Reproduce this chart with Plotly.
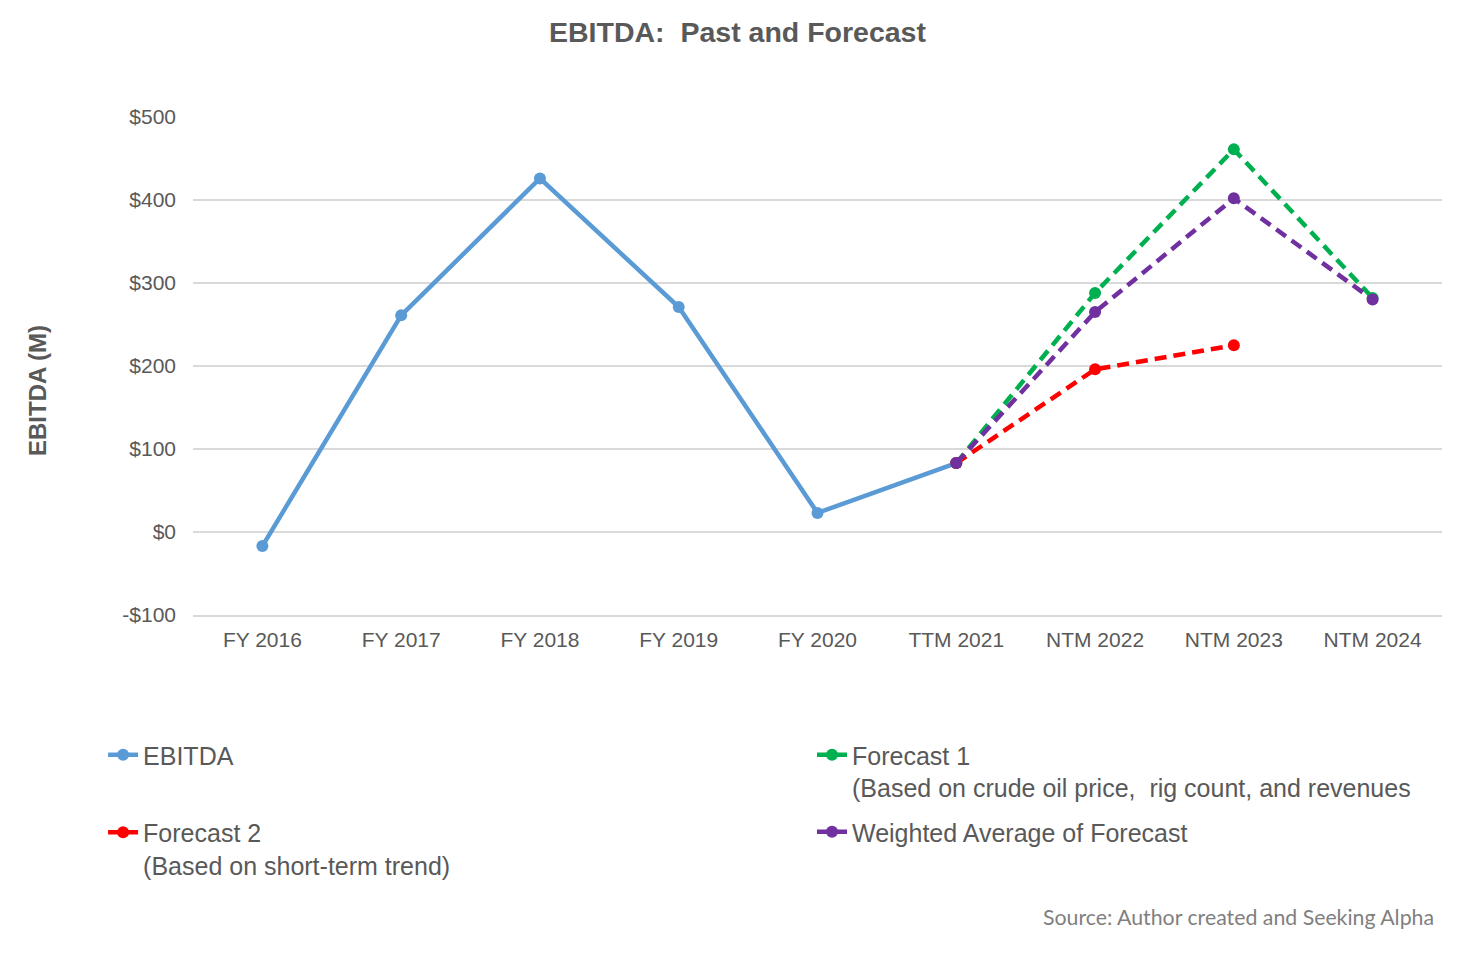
import plotly.graph_objects as go

categories = ["FY 2016", "FY 2017", "FY 2018", "FY 2019", "FY 2020",
              "TTM 2021", "NTM 2022", "NTM 2023", "NTM 2024"]

ebitda = [-17, 261, 426, 271, 23, 83, None, None, None]
forecast_1 = [None, None, None, None, None, 83, 288, 461, 282]
forecast_2 = [None, None, None, None, None, 83, 196, 225, None]
weighted_avg = [None, None, None, None, None, 83, 265, 402, 280]

y_ticks = [-100, 0, 100, 200, 300, 400, 500]
y_tick_labels = ["-$100", "$0", "$100", "$200", "$300", "$400", "$500"]

FONT = "Liberation Sans, Arial, sans-serif"
TEXT_COLOR = "#595959"
DASH = "12px,7px"

fig = go.Figure()

# left legend column: EBITDA + Forecast 2, right column: Forecast 1 + Weighted avg
fig.add_trace(go.Scatter(
    x=categories, y=ebitda, name="EBITDA",
    mode="lines+markers", legend="legend", legendgroup="a",
    line=dict(color="#5B9BD5", width=4.5),
    marker=dict(size=12, color="#5B9BD5"),
))
fig.add_trace(go.Scatter(
    x=categories, y=forecast_1,
    name="Forecast 1<br>(Based on crude oil price,&nbsp; rig count, and revenues",
    mode="lines+markers", legend="legend2", legendgroup="b",
    line=dict(color="#00B050", width=4.5, dash=DASH),
    marker=dict(size=12, color="#00B050"),
))
fig.add_trace(go.Scatter(
    x=categories, y=forecast_2,
    name="Forecast 2<br>(Based on short-term trend)",
    mode="lines+markers", legend="legend", legendgroup="c",
    line=dict(color="#FF0000", width=4.5, dash=DASH),
    marker=dict(size=12, color="#FF0000"),
))
fig.add_trace(go.Scatter(
    x=categories, y=weighted_avg,
    name="Weighted Average of Forecast",
    mode="lines+markers", legend="legend2", legendgroup="d",
    line=dict(color="#7030A0", width=4.5, dash=DASH),
    marker=dict(size=12, color="#7030A0"),
))

legend_style = dict(
    orientation="v", xanchor="left", y=-0.235, yanchor="top",
    valign="top", traceorder="grouped",
    font=dict(size=25, color=TEXT_COLOR), bgcolor="rgba(0,0,0,0)",
)

fig.update_layout(
    width=1459, height=948,
    margin=dict(l=185, r=25, t=109, b=341, autoexpand=False),
    paper_bgcolor="white", plot_bgcolor="white",
    font=dict(family=FONT, color=TEXT_COLOR, size=21),
    title=dict(text="<b>EBITDA:&nbsp; Past and Forecast</b>", x=0.5, xanchor="center",
               y=0.9747, yanchor="middle", font=dict(size=28.5, color=TEXT_COLOR)),
    showlegend=True,
    legend=dict(x=-0.072, tracegroupgap=42, **legend_style),
    legend2=dict(x=0.4956, tracegroupgap=9, **legend_style),
)

fig.update_xaxes(
    type="category", categoryorder="array", categoryarray=categories,
    showgrid=False, showline=True, linecolor="#d9d9d9", linewidth=1.5,
    ticks="", ticklabelstandoff=5, tickfont=dict(size=21, color=TEXT_COLOR),
    range=[-0.5, len(categories) - 0.5], fixedrange=True,
)
fig.update_yaxes(
    range=[-100, 500], tickvals=y_ticks, ticktext=y_tick_labels,
    showgrid=True, gridcolor="#d9d9d9", gridwidth=1.5, zeroline=False,
    showline=False, ticks="", ticklabelstandoff=16,
    tickfont=dict(size=21, color=TEXT_COLOR),
)

fig.add_annotation(
    text="<b>EBITDA (M)</b>", textangle=-90, showarrow=False,
    xref="paper", yref="paper", x=-0.124, y=0.45,
    xanchor="center", yanchor="middle",
    font=dict(size=24, color=TEXT_COLOR, family=FONT),
)
fig.add_annotation(
    text="Source: Author created and Seeking Alpha", showarrow=False,
    xref="paper", yref="paper", x=0.9952, y=-0.606,
    xanchor="right", yanchor="middle",
    font=dict(size=21.3, color="#7f7f7f", family="Lato, Noto Sans, sans-serif"),
)

fig.write_html("out.html")
